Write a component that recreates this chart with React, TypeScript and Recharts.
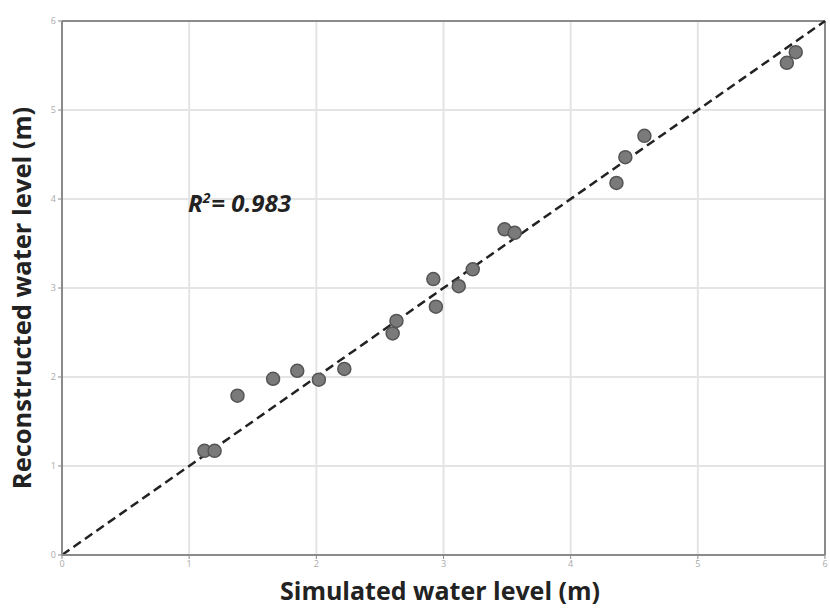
import React from "react";
import { ScatterChart, Scatter, XAxis, YAxis, CartesianGrid, ReferenceLine, Label } from "recharts";

const simulated = [1.12, 1.2, 1.38, 1.66, 1.85, 2.02, 2.22, 2.6, 2.63, 2.92, 2.94, 3.12, 3.23, 3.48, 3.56, 4.36, 4.43, 4.58, 5.7, 5.77];
const reconstructed = [1.17, 1.17, 1.79, 1.98, 2.07, 1.97, 2.09, 2.49, 2.63, 3.1, 2.79, 3.02, 3.21, 3.66, 3.62, 4.18, 4.47, 4.71, 5.53, 5.65];
const ticks = [0, 1, 2, 3, 4, 5, 6];
const xTitle = "Simulated water level (m)";
const yTitle = "Reconstructed water level (m)";
const r2Value = "= 0.983";

const points = simulated.map((x, i) => ({ x, y: reconstructed[i] }));

const font = "Open Sans";

export default function App() {
  return (
    <div style={{ position: "absolute", left: 0, top: 0, background: "#fff" }}>
      <ScatterChart width={830} height={609} margin={{ top: 21, right: 5, bottom: 0, left: 0 }}>
        <CartesianGrid stroke="#e4e4e4" strokeWidth={2} />
        <XAxis
          type="number"
          dataKey="x"
          domain={[0, 6]}
          ticks={ticks}
          height={54}
          axisLine={{ stroke: "#8a8a8a", strokeWidth: 2 }}
          tickLine={{ stroke: "#8a8a8a" }}
          tickSize={4}
          tick={{ fontSize: 9, fill: "#aaa", fontFamily: font }}
        >
          <Label
            content={() => (
              <text x={440} y={600} textAnchor="middle" fontSize={25} fontWeight={700} fill="#222" fontFamily={font}>
                {xTitle}
              </text>
            )}
          />
        </XAxis>
        <YAxis
          type="number"
          dataKey="y"
          domain={[0, 6]}
          ticks={ticks}
          width={62}
          axisLine={{ stroke: "#8a8a8a", strokeWidth: 2 }}
          tickLine={{ stroke: "#8a8a8a" }}
          tickSize={4}
          tick={{ fontSize: 9, fill: "#aaa", fontFamily: font }}
        >
          <Label
            content={() => (
              <text x={21} y={298} transform="rotate(-90 21 298)" textAnchor="middle" dominantBaseline="central"
                fontSize={25.5} fontWeight={700} fill="#222" fontFamily={font}>
                {yTitle}
              </text>
            )}
          />
        </YAxis>
        <ReferenceLine x={6} stroke="#8a8a8a" strokeWidth={2} />
        <ReferenceLine y={6} stroke="#8a8a8a" strokeWidth={2} />
        <ReferenceLine segment={[{ x: 0, y: 0 }, { x: 6, y: 6 }]} stroke="#222" strokeWidth={2.5} strokeDasharray="9 5" />
        <Scatter data={points} fill="#7a7a7a" stroke="#555" strokeWidth={1.5} isAnimationActive={false}
          shape={(p: any) => <circle cx={p.cx} cy={p.cy} r={6.5} fill="#7a7a7a" stroke="#555" strokeWidth={1.5} />} />
        <ReferenceLine y={3.9} stroke="none" ifOverflow="visible">
          <Label
            content={() => (
              <text x={188} y={212} fontSize={24} fontWeight={700} fontStyle="italic" fill="#222" fontFamily={font}>
                R<tspan dy={-9} fontSize={14}>2</tspan><tspan dy={9} dx={1}>{r2Value}</tspan>
              </text>
            )}
          />
        </ReferenceLine>
      </ScatterChart>
    </div>
  );
}
